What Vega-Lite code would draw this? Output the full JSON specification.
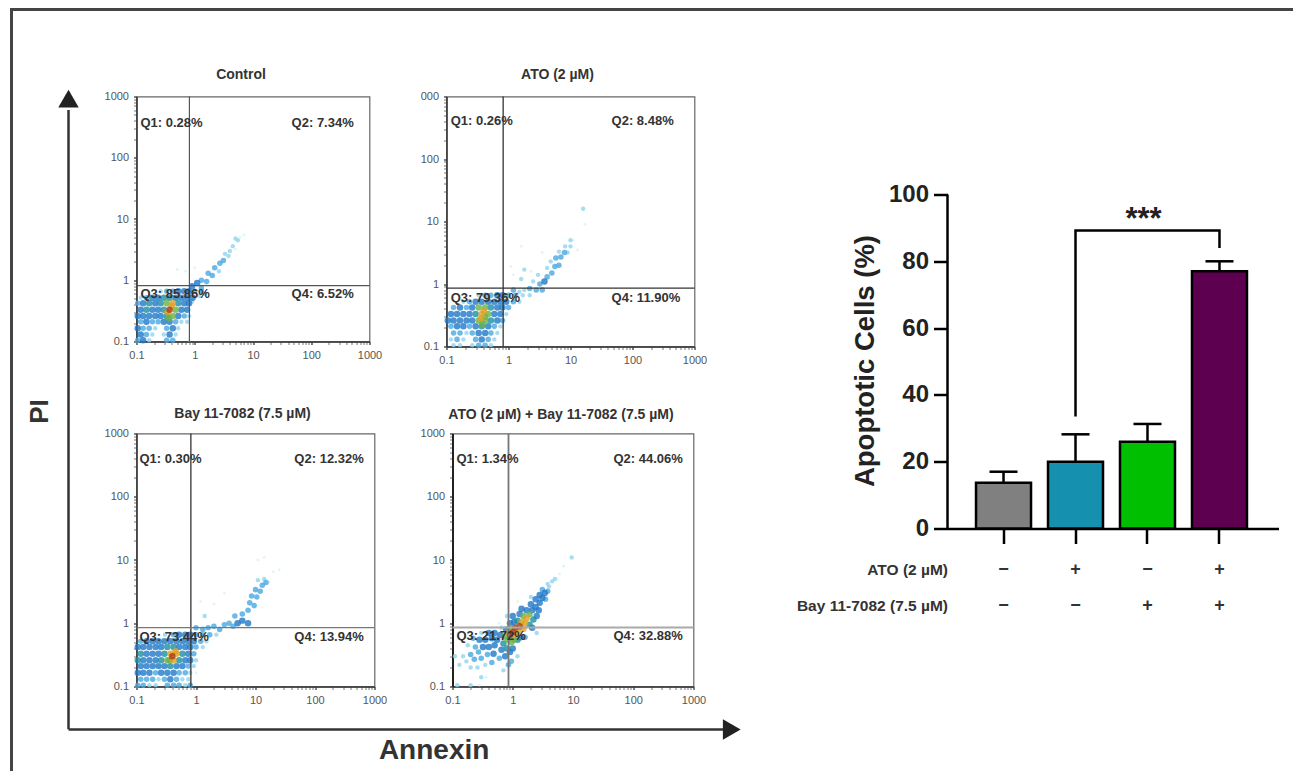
{
"$schema":"https://vega.github.io/schema/vega-lite/v6.json",
"background":"white",
"padding":{"left":8.5,"top":6.5,"right":0,"bottom":0},
"bounds":"flush","spacing":0,
"config":{"font":"Liberation Sans","text":{"font":"Liberation Sans"},"axis":{"grid":false,"labelFont":"Liberation Sans","titleFont":"Liberation Sans"},"title":{"font":"Liberation Sans"}},
"datasets":{
"p1":[
{"x":0.105,"y":0.105,"d":2},{"x":0.13,"y":0.105,"d":3},{"x":0.165,"y":0.105,"d":1},{"x":0.33,"y":0.105,"d":2},{"x":0.42,"y":0.105,"d":2},{"x":0.8,"y":0.105,"d":0},
{"x":0.118,"y":0.13,"d":3},{"x":0.148,"y":0.13,"d":2},{"x":0.187,"y":0.13,"d":1},{"x":0.295,"y":0.13,"d":1},{"x":0.37,"y":0.13,"d":3},{"x":0.47,"y":0.13,"d":1},
{"x":0.105,"y":0.165,"d":3},{"x":0.13,"y":0.165,"d":2},{"x":0.165,"y":0.165,"d":2},{"x":0.21,"y":0.165,"d":1},{"x":0.33,"y":0.165,"d":2},{"x":0.42,"y":0.165,"d":3},{"x":0.52,"y":0.165,"d":1},
{"x":0.118,"y":0.21,"d":2},{"x":0.148,"y":0.21,"d":3},{"x":0.187,"y":0.21,"d":2},{"x":0.235,"y":0.21,"d":2},{"x":0.295,"y":0.21,"d":3},{"x":0.37,"y":0.21,"d":3},{"x":0.47,"y":0.21,"d":2},{"x":0.59,"y":0.21,"d":1},{"x":0.74,"y":0.21,"d":1},
{"x":0.105,"y":0.26,"d":3},{"x":0.13,"y":0.26,"d":3},{"x":0.165,"y":0.26,"d":3},{"x":0.21,"y":0.26,"d":3},{"x":0.26,"y":0.26,"d":3},{"x":0.33,"y":0.26,"d":4},{"x":0.42,"y":0.26,"d":5},{"x":0.52,"y":0.26,"d":3},{"x":0.66,"y":0.26,"d":2},{"x":0.8,"y":0.26,"d":1},
{"x":0.118,"y":0.33,"d":3},{"x":0.148,"y":0.33,"d":4},{"x":0.187,"y":0.33,"d":3},{"x":0.235,"y":0.33,"d":3},{"x":0.295,"y":0.33,"d":4},{"x":0.37,"y":0.33,"d":7},{"x":0.47,"y":0.33,"d":5},{"x":0.59,"y":0.33,"d":3},{"x":0.74,"y":0.33,"d":3},
{"x":0.105,"y":0.42,"d":2},{"x":0.13,"y":0.42,"d":3},{"x":0.165,"y":0.42,"d":4},{"x":0.21,"y":0.42,"d":3},{"x":0.26,"y":0.42,"d":4},{"x":0.33,"y":0.42,"d":5},{"x":0.42,"y":0.42,"d":6},{"x":0.52,"y":0.42,"d":4},{"x":0.66,"y":0.42,"d":3},{"x":0.8,"y":0.42,"d":3},
{"x":0.118,"y":0.52,"d":1},{"x":0.148,"y":0.52,"d":2},{"x":0.187,"y":0.52,"d":3},{"x":0.235,"y":0.52,"d":3},{"x":0.295,"y":0.52,"d":4},{"x":0.37,"y":0.52,"d":4},{"x":0.47,"y":0.52,"d":3},{"x":0.59,"y":0.52,"d":3},{"x":0.74,"y":0.52,"d":3},{"x":0.92,"y":0.52,"d":3},
{"x":0.26,"y":0.66,"d":1},{"x":0.33,"y":0.66,"d":2},{"x":0.42,"y":0.66,"d":2},{"x":0.52,"y":0.66,"d":3},{"x":0.66,"y":0.66,"d":3},{"x":0.8,"y":0.66,"d":3},{"x":1,"y":0.66,"d":2},{"x":1.3,"y":0.66,"d":2},
{"x":0.34,"y":0.3,"d":6},{"x":0.4,"y":0.38,"d":6},{"x":0.36,"y":0.24,"d":5},
{"x":0.9,"y":0.8,"d":3},{"x":1.1,"y":0.9,"d":3},{"x":1.3,"y":0.75,"d":2},{"x":1.3,"y":1,"d":2},{"x":1.6,"y":0.95,"d":2},{"x":1.7,"y":1.3,"d":2},{"x":2,"y":1.2,"d":2},{"x":2.2,"y":1.6,"d":2},{"x":2.6,"y":1.4,"d":1},{"x":2.7,"y":1.9,"d":2},{"x":3.1,"y":2.1,"d":2},{"x":3.3,"y":2.7,"d":1},{"x":3.8,"y":2.5,"d":1},{"x":4,"y":3,"d":1},{"x":4.5,"y":3.6,"d":1},{"x":5,"y":3.2,"d":0},{"x":5.5,"y":4.5,"d":1},{"x":5,"y":4.8,"d":1},{"x":6,"y":5,"d":0},{"x":7,"y":5.5,"d":0},{"x":1.5,"y":0.6,"d":1},{"x":1.2,"y":0.55,"d":1},{"x":0.9,"y":0.45,"d":1},{"x":1,"y":1.6,"d":0},{"x":0.7,"y":1.4,"d":0},{"x":0.5,"y":1.5,"d":0}
],
"p2":[
{"x":0.13,"y":0.105,"d":1},{"x":0.165,"y":0.105,"d":1},{"x":0.26,"y":0.105,"d":1},{"x":0.33,"y":0.105,"d":2},{"x":0.42,"y":0.105,"d":2},{"x":0.52,"y":0.105,"d":1},
{"x":0.118,"y":0.13,"d":1},{"x":0.148,"y":0.13,"d":2},{"x":0.187,"y":0.13,"d":1},{"x":0.295,"y":0.13,"d":2},{"x":0.37,"y":0.13,"d":3},{"x":0.47,"y":0.13,"d":2},{"x":0.59,"y":0.13,"d":1},
{"x":0.13,"y":0.165,"d":2},{"x":0.165,"y":0.165,"d":2},{"x":0.21,"y":0.165,"d":1},{"x":0.26,"y":0.165,"d":2},{"x":0.33,"y":0.165,"d":3},{"x":0.42,"y":0.165,"d":3},{"x":0.52,"y":0.165,"d":2},{"x":0.66,"y":0.165,"d":1},
{"x":0.118,"y":0.21,"d":2},{"x":0.148,"y":0.21,"d":3},{"x":0.187,"y":0.21,"d":3},{"x":0.235,"y":0.21,"d":2},{"x":0.295,"y":0.21,"d":3},{"x":0.37,"y":0.21,"d":4},{"x":0.47,"y":0.21,"d":3},{"x":0.59,"y":0.21,"d":2},{"x":0.74,"y":0.21,"d":1},
{"x":0.105,"y":0.26,"d":3},{"x":0.13,"y":0.26,"d":3},{"x":0.165,"y":0.26,"d":3},{"x":0.21,"y":0.26,"d":3},{"x":0.26,"y":0.26,"d":3},{"x":0.33,"y":0.26,"d":5},{"x":0.42,"y":0.26,"d":5},{"x":0.52,"y":0.26,"d":4},{"x":0.66,"y":0.26,"d":3},{"x":0.8,"y":0.26,"d":2},
{"x":0.118,"y":0.33,"d":3},{"x":0.148,"y":0.33,"d":3},{"x":0.187,"y":0.33,"d":3},{"x":0.235,"y":0.33,"d":3},{"x":0.295,"y":0.33,"d":4},{"x":0.37,"y":0.33,"d":6},{"x":0.47,"y":0.33,"d":5},{"x":0.59,"y":0.33,"d":3},{"x":0.74,"y":0.33,"d":3},{"x":0.92,"y":0.33,"d":1},
{"x":0.13,"y":0.42,"d":2},{"x":0.165,"y":0.42,"d":3},{"x":0.21,"y":0.42,"d":2},{"x":0.26,"y":0.42,"d":3},{"x":0.33,"y":0.42,"d":5},{"x":0.42,"y":0.42,"d":5},{"x":0.52,"y":0.42,"d":4},{"x":0.66,"y":0.42,"d":3},{"x":0.8,"y":0.42,"d":3},{"x":1,"y":0.42,"d":2},
{"x":0.187,"y":0.52,"d":1},{"x":0.235,"y":0.52,"d":2},{"x":0.295,"y":0.52,"d":3},{"x":0.37,"y":0.52,"d":3},{"x":0.47,"y":0.52,"d":3},{"x":0.59,"y":0.52,"d":3},{"x":0.74,"y":0.52,"d":3},{"x":0.92,"y":0.52,"d":3},{"x":1.2,"y":0.52,"d":2},{"x":1.5,"y":0.52,"d":1},
{"x":0.33,"y":0.66,"d":1},{"x":0.42,"y":0.66,"d":2},{"x":0.52,"y":0.66,"d":2},{"x":0.66,"y":0.66,"d":3},{"x":0.8,"y":0.66,"d":3},{"x":1,"y":0.66,"d":2},{"x":1.3,"y":0.66,"d":2},{"x":1.7,"y":0.66,"d":1},{"x":2.2,"y":0.66,"d":1},
{"x":0.36,"y":0.28,"d":6},{"x":0.4,"y":0.37,"d":6},{"x":0.42,"y":0.3,"d":5},{"x":0.38,"y":0.23,"d":5},
{"x":1.2,"y":0.8,"d":2},{"x":1.5,"y":0.75,"d":1},{"x":1.8,"y":0.8,"d":1},{"x":2.2,"y":0.85,"d":2},{"x":2.8,"y":0.8,"d":2},{"x":3.5,"y":0.8,"d":2},{"x":3.2,"y":1,"d":2},{"x":2.5,"y":1.1,"d":1},{"x":1.6,"y":1.2,"d":1},{"x":1.2,"y":1.4,"d":0},{"x":1.1,"y":1.9,"d":0},{"x":1.8,"y":1.7,"d":1},{"x":3.8,"y":1.1,"d":3},{"x":3,"y":1.4,"d":1},{"x":4.2,"y":1.3,"d":2},{"x":5,"y":1.5,"d":2},{"x":4.2,"y":1.8,"d":1},{"x":5.6,"y":1.9,"d":2},{"x":4.8,"y":2.3,"d":1},{"x":6.5,"y":2,"d":2},{"x":5.8,"y":2.6,"d":2},{"x":7,"y":2.7,"d":2},{"x":6.5,"y":3.3,"d":1},{"x":8,"y":3.2,"d":2},{"x":9,"y":3.2,"d":1},{"x":8.2,"y":4,"d":1},{"x":10,"y":4,"d":1},{"x":10,"y":5,"d":1},{"x":11,"y":5,"d":0},{"x":13,"y":3.5,"d":0},{"x":3.5,"y":3.2,"d":0},{"x":16,"y":16,"d":1},{"x":17,"y":9,"d":0},{"x":1.6,"y":4,"d":0},{"x":2.3,"y":1.6,"d":0}
],
"p3":[
{"x":0.105,"y":0.105,"d":2},{"x":0.13,"y":0.105,"d":2},{"x":0.165,"y":0.105,"d":1},{"x":0.21,"y":0.105,"d":1},{"x":0.33,"y":0.105,"d":2},{"x":0.42,"y":0.105,"d":2},{"x":0.52,"y":0.105,"d":2},{"x":0.66,"y":0.105,"d":1},{"x":0.8,"y":0.105,"d":2},
{"x":0.118,"y":0.13,"d":2},{"x":0.148,"y":0.13,"d":2},{"x":0.187,"y":0.13,"d":2},{"x":0.235,"y":0.13,"d":1},{"x":0.295,"y":0.13,"d":2},{"x":0.37,"y":0.13,"d":3},{"x":0.47,"y":0.13,"d":2},{"x":0.59,"y":0.13,"d":1},{"x":0.74,"y":0.13,"d":1},
{"x":0.105,"y":0.165,"d":3},{"x":0.13,"y":0.165,"d":3},{"x":0.165,"y":0.165,"d":3},{"x":0.21,"y":0.165,"d":2},{"x":0.26,"y":0.165,"d":3},{"x":0.33,"y":0.165,"d":3},{"x":0.42,"y":0.165,"d":3},{"x":0.52,"y":0.165,"d":2},{"x":0.66,"y":0.165,"d":2},{"x":0.8,"y":0.165,"d":1},{"x":1,"y":0.165,"d":0},
{"x":0.118,"y":0.21,"d":3},{"x":0.148,"y":0.21,"d":3},{"x":0.187,"y":0.21,"d":3},{"x":0.235,"y":0.21,"d":3},{"x":0.295,"y":0.21,"d":3},{"x":0.37,"y":0.21,"d":4},{"x":0.47,"y":0.21,"d":3},{"x":0.59,"y":0.21,"d":3},{"x":0.74,"y":0.21,"d":2},{"x":0.92,"y":0.21,"d":1},
{"x":0.105,"y":0.26,"d":4},{"x":0.13,"y":0.26,"d":3},{"x":0.165,"y":0.26,"d":3},{"x":0.21,"y":0.26,"d":3},{"x":0.26,"y":0.26,"d":4},{"x":0.33,"y":0.26,"d":5},{"x":0.42,"y":0.26,"d":6},{"x":0.52,"y":0.26,"d":4},{"x":0.66,"y":0.26,"d":3},{"x":0.8,"y":0.26,"d":3},{"x":1,"y":0.26,"d":1},
{"x":0.118,"y":0.33,"d":4},{"x":0.148,"y":0.33,"d":3},{"x":0.187,"y":0.33,"d":3},{"x":0.235,"y":0.33,"d":3},{"x":0.295,"y":0.33,"d":4},{"x":0.37,"y":0.33,"d":6},{"x":0.47,"y":0.33,"d":6},{"x":0.59,"y":0.33,"d":4},{"x":0.74,"y":0.33,"d":3},{"x":0.92,"y":0.33,"d":2},
{"x":0.105,"y":0.42,"d":3},{"x":0.13,"y":0.42,"d":3},{"x":0.165,"y":0.42,"d":3},{"x":0.21,"y":0.42,"d":3},{"x":0.26,"y":0.42,"d":3},{"x":0.33,"y":0.42,"d":4},{"x":0.42,"y":0.42,"d":4},{"x":0.52,"y":0.42,"d":3},{"x":0.66,"y":0.42,"d":3},{"x":0.8,"y":0.42,"d":3},{"x":1,"y":0.42,"d":2},{"x":1.3,"y":0.42,"d":1},
{"x":0.118,"y":0.52,"d":2},{"x":0.148,"y":0.52,"d":3},{"x":0.187,"y":0.52,"d":3},{"x":0.235,"y":0.52,"d":3},{"x":0.295,"y":0.52,"d":3},{"x":0.37,"y":0.52,"d":3},{"x":0.47,"y":0.52,"d":3},{"x":0.59,"y":0.52,"d":3},{"x":0.74,"y":0.52,"d":3},{"x":0.92,"y":0.52,"d":3},{"x":1.2,"y":0.52,"d":2},{"x":1.5,"y":0.52,"d":1},
{"x":0.3,"y":0.66,"d":1},{"x":0.42,"y":0.66,"d":2},{"x":0.52,"y":0.66,"d":3},{"x":0.66,"y":0.66,"d":3},{"x":0.8,"y":0.66,"d":3},{"x":1,"y":0.66,"d":2},{"x":1.3,"y":0.66,"d":2},{"x":1.7,"y":0.66,"d":2},{"x":2.2,"y":0.66,"d":1},
{"x":0.4,"y":0.3,"d":7},{"x":0.45,"y":0.36,"d":6},{"x":0.36,"y":0.26,"d":5},
{"x":1,"y":0.85,"d":2},{"x":1.3,"y":0.8,"d":2},{"x":1.6,"y":0.85,"d":2},{"x":2,"y":0.9,"d":2},{"x":2.5,"y":0.8,"d":2},{"x":3,"y":0.95,"d":2},{"x":3.6,"y":1,"d":2},{"x":4.2,"y":0.9,"d":2},{"x":5,"y":1,"d":3},{"x":6,"y":1.1,"d":3},{"x":7.5,"y":1,"d":3},{"x":4.5,"y":1.3,"d":2},{"x":6,"y":1.4,"d":2},{"x":7.5,"y":1.6,"d":2},{"x":8,"y":2.1,"d":2},{"x":9.5,"y":1.9,"d":2},{"x":8.6,"y":2.7,"d":2},{"x":10.5,"y":2.6,"d":2},{"x":10,"y":3.4,"d":2},{"x":12,"y":3.2,"d":2},{"x":13,"y":4,"d":2},{"x":15,"y":4.4,"d":2},{"x":14,"y":5,"d":1},{"x":11,"y":4.8,"d":1},{"x":17,"y":4.5,"d":0},{"x":20,"y":6.5,"d":0},{"x":25,"y":7,"d":0},{"x":14,"y":11,"d":0},{"x":11,"y":10,"d":0},{"x":2,"y":2,"d":0},{"x":1.2,"y":2.2,"d":0},{"x":3,"y":3,"d":0},{"x":1.4,"y":1.3,"d":1}
],
"p4":[
{"x":0.11,"y":0.3,"d":1},{"x":0.13,"y":0.22,"d":1},{"x":0.15,"y":0.3,"d":1},{"x":0.17,"y":0.25,"d":1},{"x":0.2,"y":0.2,"d":1},{"x":0.2,"y":0.32,"d":2},{"x":0.23,"y":0.27,"d":2},{"x":0.26,"y":0.2,"d":1},{"x":0.27,"y":0.35,"d":2},{"x":0.3,"y":0.28,"d":2},{"x":0.32,"y":0.42,"d":3},{"x":0.35,"y":0.22,"d":1},{"x":0.38,"y":0.32,"d":2},{"x":0.4,"y":0.42,"d":3},{"x":0.24,"y":0.42,"d":2},{"x":0.3,"y":0.14,"d":1},{"x":0.36,"y":0.14,"d":0},{"x":0.2,"y":0.105,"d":1},{"x":0.12,"y":0.105,"d":1},{"x":0.28,"y":0.105,"d":0},{"x":0.18,"y":0.45,"d":1},{"x":0.45,"y":0.24,"d":2},{"x":0.48,"y":0.33,"d":3},{"x":0.5,"y":0.45,"d":3},{"x":0.55,"y":0.55,"d":3},{"x":0.45,"y":0.58,"d":3},{"x":0.35,"y":0.55,"d":3},{"x":0.28,"y":0.55,"d":3},{"x":0.22,"y":0.58,"d":2},{"x":0.6,"y":0.28,"d":2},{"x":0.65,"y":0.38,"d":3},{"x":0.7,"y":0.48,"d":4},{"x":0.62,"y":0.65,"d":3},{"x":0.5,"y":0.7,"d":3},{"x":0.4,"y":0.7,"d":3},{"x":0.75,"y":0.3,"d":3},{"x":0.85,"y":0.22,"d":2},{"x":0.8,"y":0.4,"d":4},{"x":0.82,"y":0.55,"d":5},{"x":0.9,"y":0.35,"d":3},{"x":1,"y":0.4,"d":3},{"x":0.95,"y":0.5,"d":5},{"x":0.75,"y":0.62,"d":5},{"x":0.85,"y":0.7,"d":6},{"x":0.9,"y":0.65,"d":7},{"x":1,"y":0.72,"d":7},{"x":1.1,"y":0.65,"d":6},{"x":1.05,"y":0.55,"d":5},{"x":1.2,"y":0.55,"d":4},{"x":1.35,"y":0.6,"d":3},{"x":1.25,"y":0.72,"d":6},{"x":1.1,"y":0.85,"d":7},{"x":0.9,"y":0.85,"d":5},{"x":0.78,"y":0.8,"d":3},{"x":1.3,"y":0.9,"d":7},{"x":1.5,"y":0.82,"d":6},{"x":1.4,"y":1.05,"d":6},{"x":1.6,"y":1,"d":6},{"x":1.7,"y":1.2,"d":6},{"x":1.5,"y":1.3,"d":5},{"x":1.2,"y":1.1,"d":4},{"x":1.05,"y":1.05,"d":3},{"x":0.9,"y":1,"d":3},{"x":1,"y":1.3,"d":3},{"x":1.3,"y":1.4,"d":3},{"x":1.9,"y":0.95,"d":4},{"x":2.1,"y":0.85,"d":3},{"x":2.2,"y":1.15,"d":4},{"x":1.9,"y":1.4,"d":5},{"x":1.7,"y":1.6,"d":3},{"x":1.4,"y":1.7,"d":3},{"x":2.1,"y":1.6,"d":3},{"x":2.5,"y":1.3,"d":3},{"x":2.4,"y":1.8,"d":3},{"x":2,"y":2,"d":3},{"x":2.7,"y":1.6,"d":3},{"x":2.8,"y":2.1,"d":3},{"x":2.4,"y":2.4,"d":3},{"x":3.1,"y":2.5,"d":3},{"x":2.8,"y":2.8,"d":3},{"x":3.5,"y":2.4,"d":2},{"x":3.4,"y":3,"d":3},{"x":3.8,"y":3.2,"d":2},{"x":3.1,"y":3.4,"d":2},{"x":2,"y":2.6,"d":1},{"x":4,"y":3.8,"d":1},{"x":3.8,"y":4.2,"d":1},{"x":4.5,"y":4.6,"d":1},{"x":5,"y":5,"d":1},{"x":5.5,"y":5,"d":0},{"x":6,"y":6,"d":0},{"x":9.5,"y":11,"d":1},{"x":7,"y":8,"d":0},{"x":1.2,"y":2.2,"d":0},{"x":0.8,"y":1.3,"d":1},{"x":0.65,"y":0.85,"d":1},{"x":0.6,"y":1,"d":0},{"x":2.5,"y":0.7,"d":1},{"x":1.6,"y":0.6,"d":2},{"x":0.95,"y":0.25,"d":2},{"x":0.7,"y":0.18,"d":1},{"x":1.2,"y":0.3,"d":1},{"x":0.3,"y":0.7,"d":1},{"x":0.45,"y":0.85,"d":0}
],
"bars":[
{"group":"Control","mean":13.7,"upper":17},
{"group":"ATO","mean":20,"upper":28.2},
{"group":"Bay","mean":26,"upper":31.3},
{"group":"ATO + Bay","mean":77,"upper":80}
]
},
"vconcat":[
{"width":1284,"height":87,"view":{"stroke":null},
 "data":{"values":[{"a":0,"b":0,"c":1,"e":1,"f":1}]},
 "layer":[
  {"mark":{"type":"rule","stroke":"#444","strokeWidth":3,"strokeCap":"square"},"encoding":{"x":{"field":"a","type":"quantitative","axis":null,"scale":{"domain":[0,1]}},"y":{"field":"b","type":"quantitative","axis":null,"scale":{"domain":[0,1]}},"y2":{"field":"e"}}},
  {"mark":{"type":"rule","stroke":"#444","strokeWidth":3},"encoding":{"x":{"field":"a","type":"quantitative"},"x2":{"field":"c"},"y":{"field":"e","type":"quantitative"}}}
 ]},
{"bounds":"flush","spacing":936,"hconcat":[
{"bounds":"flush","spacing":0,"hconcat":[
 {"width":125,"height":676,"view":{"stroke":null},
  "layer":[
   {"data":{"values":[{"x":0,"a":0,"b":100}]},"mark":{"type":"rule","stroke":"#444","strokeWidth":3,"strokeCap":"square"},"encoding":{"x":{"field":"x","type":"quantitative","axis":null,"scale":{"domain":[0,100]}},"y":{"field":"a","type":"quantitative","axis":null,"scale":{"domain":[0,100]}},"y2":{"field":"b"}}},
   {"data":{"values":[{"x":45.6,"a":6.4,"b":98}]},"mark":{"type":"rule","stroke":"#333","strokeWidth":2.5},"encoding":{"x":{"field":"x","type":"quantitative"},"y":{"field":"a","type":"quantitative"},"y2":{"field":"b"}}},
   {"data":{"values":[{"x":45.6,"y":99.7}]},"mark":{"type":"point","shape":"triangle-up","filled":true,"size":420,"color":"#222","opacity":1},"encoding":{"x":{"field":"x","type":"quantitative"},"y":{"field":"y","type":"quantitative"}}},
   {"data":{"values":[{"x":22.4,"y":53.4,"t":"PI"}]},"mark":{"type":"text","fontWeight":"bold","fontSize":26,"angle":270,"color":"#333","baseline":"middle"},"encoding":{"x":{"field":"x","type":"quantitative"},"y":{"field":"y","type":"quantitative"},"text":{"field":"t"}}}
  ]},
 {"bounds":"flush","spacing":605,"vconcat":[
  {"bounds":"flush","spacing":337,"vconcat":[
   {"bounds":"flush","spacing":77,"hconcat":[
    {"title":{"text":"Control","fontSize":14,"fontWeight":"bold","color":"#333","dx":-12,"offset":9},"width":233,"height":245,"view":{"stroke":"#666","strokeWidth":1.2},
     "layer":[
      {"data":{"name":"p1"},"mark":{"type":"point","shape":"circle","filled":true,"opacity":0.8},"encoding":{
       "x":{"field":"x","type":"quantitative","scale":{"type":"log","domain":[0.1,1000],"nice":false},"axis":{"title":null,"values":[0.1,0.2,0.3,0.4,0.5,0.6,0.7,0.8,0.9,1,2,3,4,5,6,7,8,9,10,20,30,40,50,60,70,80,90,100,200,300,400,500,600,700,800,900,1000],"format":"~g","labelExpr":"indexof([0.1,1,10,100,1000],datum.value)>=0?datum.label:''","labelOverlap":false,"labelFlush":false,"tickSize":3,"tickColor":"#555","tickWidth":{"condition":{"test":"indexof([0.1,1,10,100,1000],datum.value)>=0","value":1.5},"value":0.8},"domainColor":"#333","domainWidth":1.5,"labelFontSize":11,"labelColor":"#555","labelPadding":5}},
       "y":{"field":"y","type":"quantitative","scale":{"type":"log","domain":[0.1,1000],"nice":false},"axis":{"title":null,"values":[0.1,0.2,0.3,0.4,0.5,0.6,0.7,0.8,0.9,1,2,3,4,5,6,7,8,9,10,20,30,40,50,60,70,80,90,100,200,300,400,500,600,700,800,900,1000],"format":"~g","labelExpr":"indexof([0.1,1,10,100,1000],datum.value)>=0?datum.label:''","labelOverlap":false,"labelFlush":false,"tickSize":3,"tickColor":"#555","tickWidth":{"condition":{"test":"indexof([0.1,1,10,100,1000],datum.value)>=0","value":1.5},"value":0.8},"domainColor":"#333","domainWidth":1.5,"labelFontSize":11,"labelColor":"#555","labelPadding":5}},
       "color":{"field":"d","type":"quantitative","legend":null,"scale":{"domain":[0,1,2,3,4,5,6,7],"range":["#d8f2f8","#90d4ee","#4aa8e0","#1f78c8","#1a8fa0","#6cb04a","#e0a020","#a83a10"]}},
       "size":{"field":"d","type":"quantitative","legend":null,"scale":{"domain":[0,3,7],"range":[8,42,42]}},
       "order":{"field":"d","type":"quantitative"}}},
      {"data":{"values":[{"g":0.81}]},"mark":{"type":"rule","stroke":"#555","strokeWidth":1.2},"encoding":{"x":{"field":"g","type":"quantitative"}}},
      {"data":{"values":[{"g":0.82}]},"mark":{"type":"rule","stroke":"#555","strokeWidth":1.2},"encoding":{"y":{"field":"g","type":"quantitative"}}},
      {"data":{"values":[{"x":0.117,"y":376,"t":"Q1: 0.28%"},{"x":46,"y":376,"t":"Q2: 7.34%"},{"x":0.117,"y":0.6,"t":"Q3: 85.86%"},{"x":46,"y":0.6,"t":"Q4: 6.52%"}]},"mark":{"type":"text","align":"left","fontSize":13,"fontWeight":"bold","color":"#333"},"encoding":{"x":{"field":"x","type":"quantitative"},"y":{"field":"y","type":"quantitative"},"text":{"field":"t"}}}
     ]},
    {"title":{"text":"ATO (2 µM)","fontSize":14,"fontWeight":"bold","color":"#333","dx":-13,"offset":9},"width":248,"height":250,"view":{"stroke":"#666","strokeWidth":1.2},
     "layer":[
      {"data":{"name":"p2"},"mark":{"type":"point","shape":"circle","filled":true,"opacity":0.8},"encoding":{
       "x":{"field":"x","type":"quantitative","scale":{"type":"log","domain":[0.1,1000],"nice":false},"axis":{"title":null,"values":[0.1,0.2,0.3,0.4,0.5,0.6,0.7,0.8,0.9,1,2,3,4,5,6,7,8,9,10,20,30,40,50,60,70,80,90,100,200,300,400,500,600,700,800,900,1000],"format":"~g","labelExpr":"indexof([0.1,1,10,100,1000],datum.value)>=0?datum.label:''","labelOverlap":false,"labelFlush":false,"tickSize":3,"tickColor":"#555","tickWidth":{"condition":{"test":"indexof([0.1,1,10,100,1000],datum.value)>=0","value":1.5},"value":0.8},"domainColor":"#333","domainWidth":1.5,"labelFontSize":11,"labelColor":"#555","labelPadding":5}},
       "y":{"field":"y","type":"quantitative","scale":{"type":"log","domain":[0.1,1000],"nice":false},"axis":{"title":null,"values":[0.1,0.2,0.3,0.4,0.5,0.6,0.7,0.8,0.9,1,2,3,4,5,6,7,8,9,10,20,30,40,50,60,70,80,90,100,200,300,400,500,600,700,800,900,1000],"format":"~g","labelExpr":"datum.value==1000?'000':indexof([0.1,1,10,100],datum.value)>=0?datum.label:''","labelOverlap":false,"labelFlush":false,"tickSize":3,"tickColor":"#555","tickWidth":{"condition":{"test":"indexof([0.1,1,10,100,1000],datum.value)>=0","value":1.5},"value":0.8},"domainColor":"#333","domainWidth":1.5,"labelFontSize":11,"labelColor":"#555","labelPadding":5}},
       "color":{"field":"d","type":"quantitative","legend":null,"scale":{"domain":[0,1,2,3,4,5,6,7],"range":["#d8f2f8","#90d4ee","#4aa8e0","#1f78c8","#1a8fa0","#6cb04a","#e0a020","#a83a10"]}},
       "size":{"field":"d","type":"quantitative","legend":null,"scale":{"domain":[0,3,7],"range":[8,42,42]}},
       "order":{"field":"d","type":"quantitative"}}},
      {"data":{"values":[{"g":0.82}]},"mark":{"type":"rule","stroke":"#333","strokeWidth":1.3},"encoding":{"x":{"field":"g","type":"quantitative"}}},
      {"data":{"values":[{"g":0.86}]},"mark":{"type":"rule","stroke":"#333","strokeWidth":1.3},"encoding":{"y":{"field":"g","type":"quantitative"}}},
      {"data":{"values":[{"x":0.117,"y":400,"t":"Q1: 0.26%"},{"x":46,"y":400,"t":"Q2: 8.48%"},{"x":0.117,"y":0.6,"t":"Q3: 79.36%"},{"x":46,"y":0.6,"t":"Q4: 11.90%"}]},"mark":{"type":"text","align":"left","fontSize":13,"fontWeight":"bold","color":"#333"},"encoding":{"x":{"field":"x","type":"quantitative"},"y":{"field":"y","type":"quantitative"},"text":{"field":"t"}}}
     ]}
   ]},
   {"bounds":"flush","spacing":78,"hconcat":[
    {"title":{"text":"Bay 11-7082 (7.5 µM)","fontSize":14,"fontWeight":"bold","color":"#333","dx":-13,"offset":7},"width":238,"height":253,"view":{"stroke":"#666","strokeWidth":1.2},
     "layer":[
      {"data":{"name":"p3"},"mark":{"type":"point","shape":"circle","filled":true,"opacity":0.8},"encoding":{
       "x":{"field":"x","type":"quantitative","scale":{"type":"log","domain":[0.1,1000],"nice":false},"axis":{"title":null,"values":[0.1,0.2,0.3,0.4,0.5,0.6,0.7,0.8,0.9,1,2,3,4,5,6,7,8,9,10,20,30,40,50,60,70,80,90,100,200,300,400,500,600,700,800,900,1000],"format":"~g","labelExpr":"indexof([0.1,1,10,100,1000],datum.value)>=0?datum.label:''","labelOverlap":false,"labelFlush":false,"tickSize":3,"tickColor":"#555","tickWidth":{"condition":{"test":"indexof([0.1,1,10,100,1000],datum.value)>=0","value":1.5},"value":0.8},"domainColor":"#333","domainWidth":1.5,"labelFontSize":11,"labelColor":"#555","labelPadding":5}},
       "y":{"field":"y","type":"quantitative","scale":{"type":"log","domain":[0.1,1000],"nice":false},"axis":{"title":null,"values":[0.1,0.2,0.3,0.4,0.5,0.6,0.7,0.8,0.9,1,2,3,4,5,6,7,8,9,10,20,30,40,50,60,70,80,90,100,200,300,400,500,600,700,800,900,1000],"format":"~g","labelExpr":"indexof([0.1,1,10,100,1000],datum.value)>=0?datum.label:''","labelOverlap":false,"labelFlush":false,"tickSize":3,"tickColor":"#555","tickWidth":{"condition":{"test":"indexof([0.1,1,10,100,1000],datum.value)>=0","value":1.5},"value":0.8},"domainColor":"#333","domainWidth":1.5,"labelFontSize":11,"labelColor":"#555","labelPadding":5}},
       "color":{"field":"d","type":"quantitative","legend":null,"scale":{"domain":[0,1,2,3,4,5,6,7],"range":["#d8f2f8","#90d4ee","#4aa8e0","#1f78c8","#1a8fa0","#6cb04a","#e0a020","#a83a10"]}},
       "size":{"field":"d","type":"quantitative","legend":null,"scale":{"domain":[0,3,7],"range":[8,42,42]}},
       "order":{"field":"d","type":"quantitative"}}},
      {"data":{"values":[{"g":0.82}]},"mark":{"type":"rule","stroke":"#333","strokeWidth":1.3},"encoding":{"x":{"field":"g","type":"quantitative"}}},
      {"data":{"values":[{"g":0.85}]},"mark":{"type":"rule","stroke":"#777","strokeWidth":1.2},"encoding":{"y":{"field":"g","type":"quantitative"}}},
      {"data":{"values":[{"x":0.112,"y":390,"t":"Q1: 0.30%"},{"x":45,"y":390,"t":"Q2: 12.32%"},{"x":0.112,"y":0.6,"t":"Q3: 73.44%"},{"x":45,"y":0.6,"t":"Q4: 13.94%"}]},"mark":{"type":"text","align":"left","fontSize":13,"fontWeight":"bold","color":"#333"},"encoding":{"x":{"field":"x","type":"quantitative"},"y":{"field":"y","type":"quantitative"},"text":{"field":"t"}}}
     ]},
    {"title":{"text":"ATO (2 µM) + Bay 11-7082 (7.5 µM)","fontSize":14,"fontWeight":"bold","color":"#333","dx":-12,"offset":6},"width":241,"height":253,"view":{"stroke":"#666","strokeWidth":1.2},
     "layer":[
      {"data":{"name":"p4"},"mark":{"type":"point","shape":"circle","filled":true,"opacity":0.8},"encoding":{
       "x":{"field":"x","type":"quantitative","scale":{"type":"log","domain":[0.1,1000],"nice":false},"axis":{"title":null,"values":[0.1,0.2,0.3,0.4,0.5,0.6,0.7,0.8,0.9,1,2,3,4,5,6,7,8,9,10,20,30,40,50,60,70,80,90,100,200,300,400,500,600,700,800,900,1000],"format":"~g","labelExpr":"indexof([0.1,1,10,100,1000],datum.value)>=0?datum.label:''","labelOverlap":false,"labelFlush":false,"tickSize":3,"tickColor":"#555","tickWidth":{"condition":{"test":"indexof([0.1,1,10,100,1000],datum.value)>=0","value":1.5},"value":0.8},"domainColor":"#333","domainWidth":1.5,"labelFontSize":11,"labelColor":"#555","labelPadding":5}},
       "y":{"field":"y","type":"quantitative","scale":{"type":"log","domain":[0.1,1000],"nice":false},"axis":{"title":null,"values":[0.1,0.2,0.3,0.4,0.5,0.6,0.7,0.8,0.9,1,2,3,4,5,6,7,8,9,10,20,30,40,50,60,70,80,90,100,200,300,400,500,600,700,800,900,1000],"format":"~g","labelExpr":"indexof([0.1,1,10,100,1000],datum.value)>=0?datum.label:''","labelOverlap":false,"labelFlush":false,"tickSize":3,"tickColor":"#555","tickWidth":{"condition":{"test":"indexof([0.1,1,10,100,1000],datum.value)>=0","value":1.5},"value":0.8},"domainColor":"#222","domainWidth":2,"labelFontSize":11,"labelColor":"#555","labelPadding":5}},
       "color":{"field":"d","type":"quantitative","legend":null,"scale":{"domain":[0,1,2,3,4,5,6,7],"range":["#d8f2f8","#90d4ee","#4aa8e0","#1f78c8","#1a8fa0","#6cb04a","#e0a020","#a83a10"]}},
       "size":{"field":"d","type":"quantitative","legend":null,"scale":{"domain":[0,3,7],"range":[8,42,42]}},
       "order":{"field":"d","type":"quantitative"}}},
      {"data":{"values":[{"g":0.85}]},"mark":{"type":"rule","stroke":"#777","strokeWidth":1.8},"encoding":{"x":{"field":"g","type":"quantitative"}}},
      {"data":{"values":[{"g":0.857}]},"mark":{"type":"rule","stroke":"#aaa","strokeWidth":1.8},"encoding":{"y":{"field":"g","type":"quantitative"}}},
      {"data":{"values":[{"x":0.116,"y":400,"t":"Q1: 1.34%"},{"x":47,"y":400,"t":"Q2: 44.06%"},{"x":0.116,"y":0.62,"t":"Q3: 21.72%"},{"x":47,"y":0.62,"t":"Q4: 32.88%"}]},"mark":{"type":"text","align":"left","fontSize":13,"fontWeight":"bold","color":"#333"},"encoding":{"x":{"field":"x","type":"quantitative"},"y":{"field":"y","type":"quantitative"},"text":{"field":"t"}}}
     ]}
   ]}
  ]},
  {"width":811,"height":71,"view":{"stroke":null},
   "layer":[
    {"data":{"values":[{"a":-8.38,"b":72.7,"y":60.6}]},"mark":{"type":"rule","stroke":"#333","strokeWidth":2.5},"encoding":{"x":{"field":"a","type":"quantitative","axis":null,"scale":{"domain":[0,100]}},"x2":{"field":"b"},"y":{"field":"y","type":"quantitative","axis":null,"scale":{"domain":[0,100]}}}},
    {"data":{"values":[{"x":73.4,"y":60.6}]},"mark":{"type":"point","shape":"triangle-right","filled":true,"size":420,"color":"#222","opacity":1},"encoding":{"x":{"field":"x","type":"quantitative"},"y":{"field":"y","type":"quantitative"}}},
    {"data":{"values":[{"x":36.7,"y":29.6,"t":"Annexin"}]},"mark":{"type":"text","fontWeight":"bold","fontSize":28,"color":"#333","baseline":"middle"},"encoding":{"x":{"field":"x","type":"quantitative"},"y":{"field":"y","type":"quantitative"},"text":{"field":"t"}}}
   ]}
 ]}
]},
 {"bounds":"flush","spacing":23,"vconcat":[
  {"width":331,"height":432,"view":{"stroke":null},
   "layer":[
    {"data":{"name":"bars"},"mark":{"type":"bar","stroke":"#000","strokeWidth":2.5},"encoding":{
      "x":{"field":"group","type":"nominal","scale":{"domain":["Control","ATO","Bay","ATO + Bay"],"paddingInner":0.236,"paddingOuter":0.417,"align":0.475},"axis":{"labels":false,"title":null,"tickSize":15,"tickWidth":2.5,"tickColor":"#000","domainColor":"#000","domainWidth":2.5}},
      "y":{"field":"mean","type":"quantitative","scale":{"domain":[0,129.34],"nice":false},"axis":{"title":"Apoptotic Cells (%)","titleFontSize":27.5,"titleFontWeight":"bold","titleColor":"#222","titleX":-68,"titleY":264,"values":[0,20,40,60,80,100],"tickSize":14,"tickWidth":2.5,"tickColor":"#000","domain":false,"labelFontSize":24,"labelFontWeight":"bold","labelColor":"#222","labelPadding":5}},
      "color":{"field":"group","type":"nominal","legend":null,"scale":{"domain":["Control","ATO","Bay","ATO + Bay"],"range":["#808080","#1590AE","#00BE00","#5E0050"]}}}},
    {"data":{"name":"bars"},"mark":{"type":"rule","stroke":"#000","strokeWidth":2.5},"encoding":{"x":{"field":"group","type":"nominal"},"y":{"field":"mean","type":"quantitative"},"y2":{"field":"upper"}}},
    {"data":{"name":"bars"},"mark":{"type":"tick","color":"#000","thickness":2.5,"size":28,"opacity":1},"encoding":{"x":{"field":"group","type":"nominal"},"y":{"field":"upper","type":"quantitative"}}},
    {"data":{"values":[{"a":0,"b":100}]},"mark":{"type":"rule","stroke":"#000","strokeWidth":2.5},"encoding":{"x":{"value":0},"y":{"field":"a","type":"quantitative"},"y2":{"field":"b"}}},
    {"data":{"values":[{"group":"ATO","v":33.5,"s":1},{"group":"ATO","v":89.2,"s":2},{"group":"ATO + Bay","v":89.2,"s":3},{"group":"ATO + Bay","v":84,"s":4}]},"mark":{"type":"line","stroke":"#000","strokeWidth":2.5,"strokeJoin":"miter"},"encoding":{"x":{"field":"group","type":"nominal"},"y":{"field":"v","type":"quantitative"},"order":{"field":"s","type":"quantitative"}}},
    {"data":{"values":[{"group":"Bay","v":92.5,"t":"***"}]},"mark":{"type":"text","fontWeight":"bold","fontSize":31,"color":"#222","baseline":"middle","dx":-4},"encoding":{"x":{"field":"group","type":"nominal"},"y":{"field":"v","type":"quantitative"},"text":{"field":"t"}}}
   ]},
  {"width":331,"height":72,"view":{"stroke":null},
   "data":{"values":[
    {"group":"Control","row":"ATO (2 µM)","s":"−"},{"group":"ATO","row":"ATO (2 µM)","s":"+"},{"group":"Bay","row":"ATO (2 µM)","s":"−"},{"group":"ATO + Bay","row":"ATO (2 µM)","s":"+"},
    {"group":"Control","row":"Bay 11-7082 (7.5 µM)","s":"−"},{"group":"ATO","row":"Bay 11-7082 (7.5 µM)","s":"−"},{"group":"Bay","row":"Bay 11-7082 (7.5 µM)","s":"+"},{"group":"ATO + Bay","row":"Bay 11-7082 (7.5 µM)","s":"+"}]},
   "mark":{"type":"text","fontSize":18,"fontWeight":"bold","color":"#333"},
   "encoding":{
    "x":{"field":"group","type":"nominal","axis":null,"scale":{"type":"band","domain":["Control","ATO","Bay","ATO + Bay"],"paddingInner":0.236,"paddingOuter":0.417,"align":0.475}},
    "y":{"field":"row","type":"nominal","sort":null,"axis":{"title":null,"domain":false,"ticks":false,"labelPadding":0,"labelFontSize":15.5,"labelFontWeight":"bold","labelColor":"#333","labelLimit":300}},
    "text":{"field":"s"}}}
 ]}
]}
]}
